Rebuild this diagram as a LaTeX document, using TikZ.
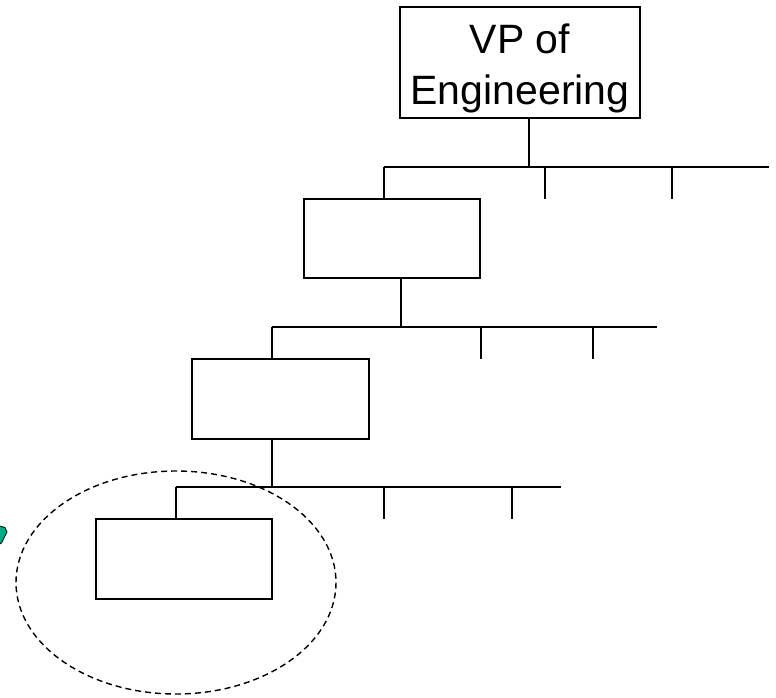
\documentclass[tikz,border=0pt]{standalone}
\usepackage{fontspec}
\setmainfont{Liberation Sans}
\definecolor{arrowgreen}{RGB}{0,170,130}
\begin{document}
\begin{tikzpicture}[x=1pt,y=-1pt,
  box/.style={draw, rectangle, inner sep=0pt, line width=1.8pt},
  link/.style={draw, line width=1.7pt},
  vptext/.style={font=\fontsize{41}{48}\selectfont, inner sep=0pt, anchor=base},
  groupring/.style={draw, dash pattern=on 6pt off 4pt, line width=1.4pt},
  pointer/.style={fill=arrowgreen, draw=black, line width=0.8pt}]
\useasboundingbox (0,0) rectangle (776,697);
\clip (0,0) rectangle (776,697);
% boxes
\node[box, minimum width=240pt, minimum height=111pt] (vp) at (520,62.5) {};
\node[vptext] (vpa) at (520,53) {VP of};
\node[vptext] (vpb) at (520,104) {Engineering};
\node[box, minimum width=176pt, minimum height=79pt] (m1) at (392,238.5) {};
\node[box, minimum width=177pt, minimum height=80pt] (m2) at (280.5,399) {};
\node[box, minimum width=176pt, minimum height=80pt] (m3) at (184,559) {};
% bus 1
\coordinate (j1) at (529,167);
\coordinate (b1s) at (384,167);
\coordinate (b1e) at (769,167);
\coordinate (t1b) at (545,167);
\coordinate (d1b) at (545,199);
\coordinate (t1c) at (672,167);
\coordinate (d1c) at (672,199);
\draw[link] (vp.south -| j1) -- (j1);
\draw[link] (b1s) -- (b1e);
\draw[link] (b1s) -- (m1.north -| b1s);
\draw[link] (t1b) -- (d1b);
\draw[link] (t1c) -- (d1c);
% bus 2
\coordinate (j2) at (401,327);
\coordinate (b2s) at (272,327);
\coordinate (b2e) at (657,327);
\coordinate (t2b) at (481,327);
\coordinate (d2b) at (481,359);
\coordinate (t2c) at (593,327);
\coordinate (d2c) at (593,359);
\draw[link] (m1.south -| j2) -- (j2);
\draw[link] (b2s) -- (b2e);
\draw[link] (b2s) -- (m2.north -| b2s);
\draw[link] (t2b) -- (d2b);
\draw[link] (t2c) -- (d2c);
% bus 3
\coordinate (j3) at (272,487);
\coordinate (b3s) at (176,487);
\coordinate (b3e) at (561,487);
\coordinate (t3b) at (384,487);
\coordinate (d3b) at (384,519);
\coordinate (t3c) at (512,487);
\coordinate (d3c) at (512,519);
\draw[link] (m2.south -| j3) -- (j3);
\draw[link] (b3s) -- (b3e);
\draw[link] (b3s) -- (m3.north -| b3s);
\draw[link] (t3b) -- (d3b);
\draw[link] (t3c) -- (d3c);
% dashed ring
\draw[groupring] (176,582.5) ellipse [x radius=160, y radius=111.5];
% arrow fragment at left edge
\draw[pointer] (-4,525) -- (5,527.5) -- (7,532) -- (1.5,543) -- (-4,546) -- cycle;
\end{tikzpicture}
\end{document}
